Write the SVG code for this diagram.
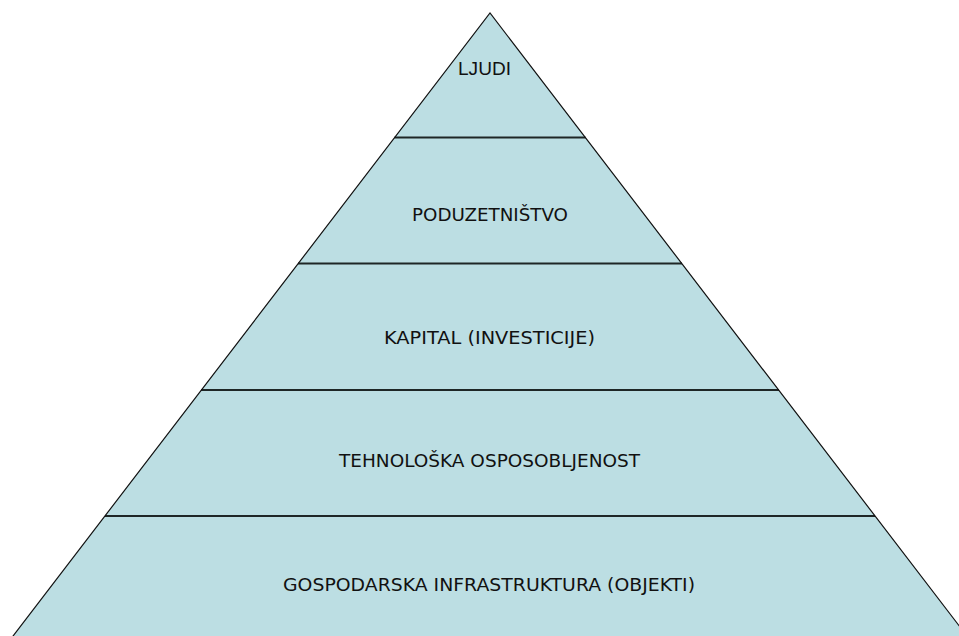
<svg xmlns="http://www.w3.org/2000/svg" width="959" height="636" viewBox="0 0 959 636">
<style>
.lvl{fill:#bcdee3;stroke:none}
.edge{fill:none;stroke:#111;stroke-width:1.2}
.div{stroke:#1e2626;stroke-width:2.2}
.t{font-family:"DejaVu Sans","Verdana",sans-serif;font-size:18.5px;fill:#111;text-anchor:middle}
.a{font-family:"Liberation Sans",Arial,sans-serif;font-size:19px;fill:#111;text-anchor:middle}
</style>
<rect width="959" height="636" fill="#fff"/>
<g id="pyramid">
<polygon class="lvl" points="490,13 10,640 970,640"/>
</g>
<g id="dividers">
<line class="div" x1="394.5" y1="137.5" x2="585.5" y2="137.5"/>
<line class="div" x1="298" y1="263.5" x2="682" y2="263.5"/>
<line class="div" x1="201" y1="390" x2="779" y2="390"/>
<line class="div" x1="105" y1="516" x2="875" y2="516"/>
</g>
<polyline class="edge" points="10,640 490,13 970,640"/>
<g id="level-ljudi"><text class="a" x="484.5" y="75" textLength="53" lengthAdjust="spacingAndGlyphs">LJUDI</text></g>
<g id="level-poduzetnistvo"><text class="t" x="490" y="221" textLength="156" lengthAdjust="spacingAndGlyphs">PODUZETNIŠTVO</text></g>
<g id="level-kapital"><text class="t" x="489.5" y="344" textLength="211" lengthAdjust="spacingAndGlyphs">KAPITAL (INVESTICIJE)</text></g>
<g id="level-tehnoloska"><text class="t" x="489.5" y="467" textLength="301" lengthAdjust="spacingAndGlyphs">TEHNOLOŠKA OSPOSOBLJENOST</text></g>
<g id="level-gospodarska"><text class="t" x="489" y="591" textLength="412" lengthAdjust="spacingAndGlyphs">GOSPODARSKA INFRASTRUKTURA (OBJEKTI)</text></g>
</svg>
